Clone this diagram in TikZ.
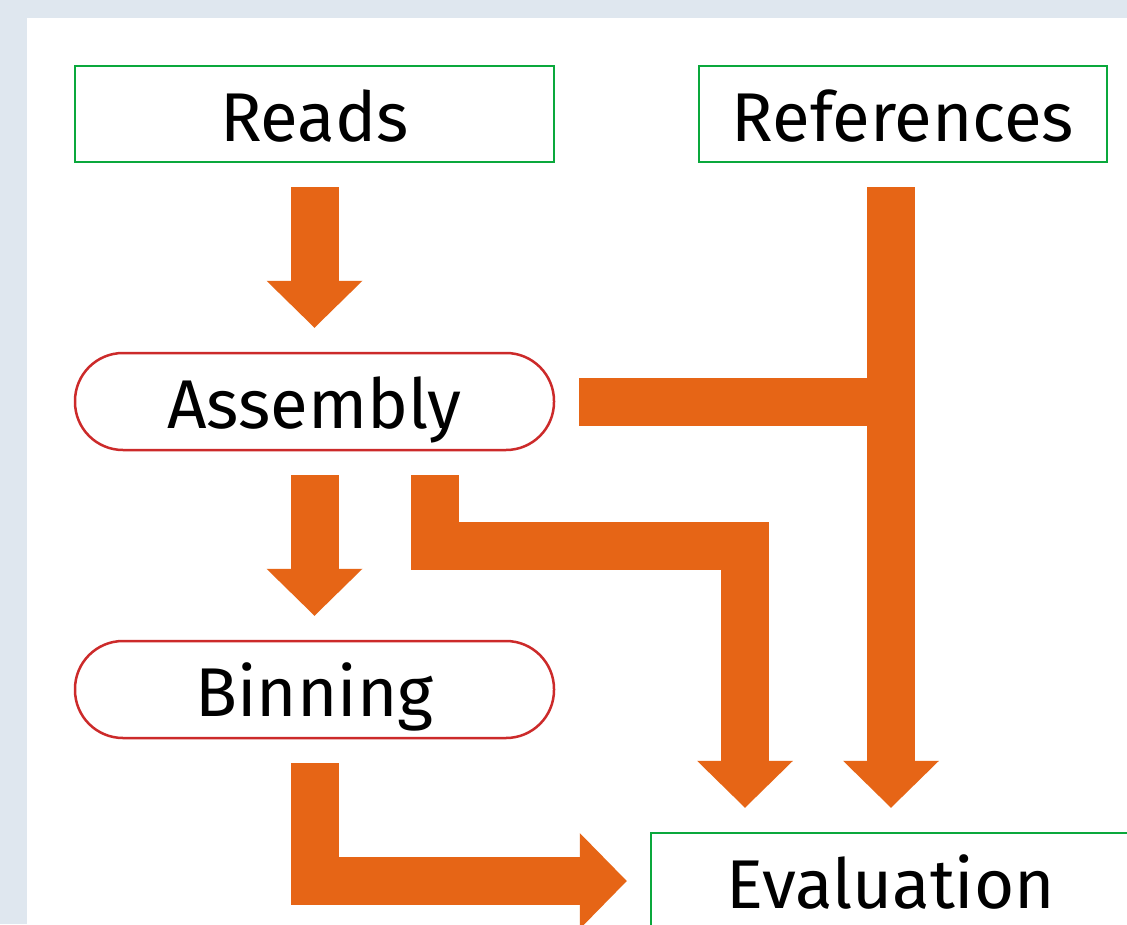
\documentclass[tikz,border=0pt]{standalone}
\usepackage{fontspec}
\setmainfont{Fira Sans}
\usetikzlibrary{arrows.meta,calc}
\definecolor{bgc}{HTML}{DFE7EF}
\definecolor{flowc}{HTML}{E66516}
\definecolor{datac}{HTML}{0AA83C}
\definecolor{procc}{HTML}{CC2A2A}
\tikzset{
  box/.style={draw, line width=2.5pt, minimum height=96pt, inner sep=0pt,
    text height=60pt, text depth=6pt, font=\fontsize{69}{69}\selectfont},
  data/.style={box, draw=datac, rectangle},
  proc/.style={box, draw=procc, rounded corners=48pt, minimum height=97pt},
  flow/.style={draw=flowc, line width=48pt, line join=miter, line cap=butt},
  fathead/.style={-{Triangle[width=96pt,length=47pt,line width=0pt]}}
}
\begin{document}
\begin{tikzpicture}[x=1pt,y=-1pt]
\useasboundingbox (0,0) rectangle (1127,924);
\clip (0,0) rectangle (1127,924);
% page and panel
\fill[bgc] (0,0) rectangle (1127,924);
\fill[white] (27,18) rectangle (1140,940);
% stages
\node[data, minimum width=479pt] (reads) at (314.5,114) {Reads};
\node[data, minimum width=408pt] (refs) at (903,114) {References};
\node[proc, minimum width=479pt] (asm) at (314.5,401.5) {Assembly};
\node[proc, minimum width=479pt] (bin) at (314.5,689.5) {Binning};
\node[data, minimum width=480pt] (eval) at (891,881) {Evaluation};
% flows
\coordinate (bend) at (745,545.5);
\draw[flow, fathead] ($(reads.south)+(0,24)$) -- ($(asm.north)+(0,-24)$);
\draw[flow, fathead] ($(asm.south)+(0,24)$) -- ($(bin.north)+(0,-24)$);
\draw[flow, fathead] ($(asm.south)+(120.5,24)$) |- (bend) -- ($(eval.north)+(-146,-24)$);
\draw[flow, fathead] ($(refs.south -| eval.north)+(0,24)$) -- ($(eval.north)+(0,-24)$);
\draw[flow] ($(asm.east)+(24,0)$) -- (asm.east -| eval.north);
\draw[flow, fathead] ($(bin.south)+(0,24)$) |- ($(eval.west)+(-23,0)$);
\end{tikzpicture}
\end{document}
